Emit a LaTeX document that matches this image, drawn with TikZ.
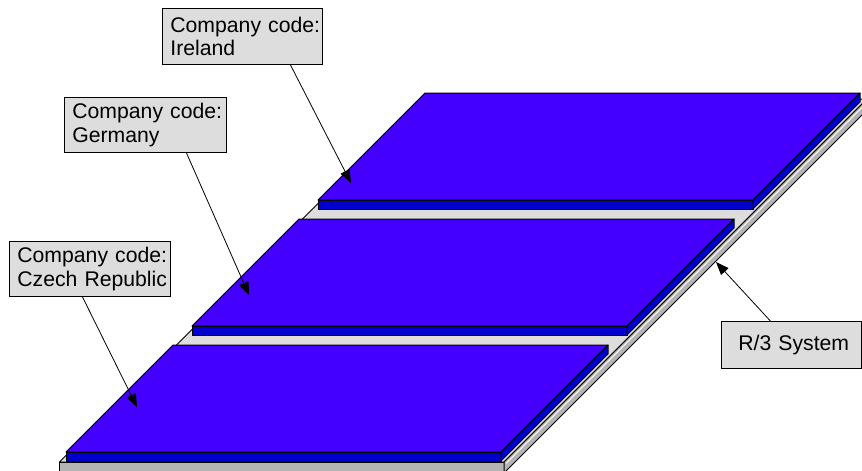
\documentclass[tikz,border=0pt]{standalone}
\usepackage{fontspec}
\setmainfont{Liberation Sans}
\usetikzlibrary{arrows.meta}
\definecolor{platetop}{RGB}{68,0,255}
\definecolor{plateside}{RGB}{0,0,204}
\definecolor{basetop}{RGB}{221,221,221}
\definecolor{baseside}{RGB}{180,180,180}
\definecolor{boxfill}{RGB}{221,221,221}
\newcommand\drawplate[2]{%
  \filldraw[edge, fill=platetop] (#1,#2) -- ({#1+435},#2) -- ({#1+542},{#2-107}) -- ({#1+107},{#2-107}) -- cycle;
  \filldraw[edge, fill=plateside] (#1,#2) -- ({#1+435},#2) -- ({#1+435},{#2+9}) -- (#1,{#2+9}) -- cycle;
  \filldraw[edge, fill=plateside] ({#1+435},#2) -- ({#1+542},{#2-107}) -- ({#1+542},{#2-98}) -- ({#1+435},{#2+9}) -- cycle;
}
\begin{document}
\begin{tikzpicture}[x=1pt,y=-1pt,
  edge/.style={draw=black, line width=1pt, line join=round},
  lbl/.style={draw=black, line width=0.8pt, fill=boxfill, anchor=north west, align=left,
    inner xsep=8pt, inner ysep=0pt, font=\fontsize{21.2}{23.5}\selectfont},
  pointer/.style={draw=black, line width=0.8pt, -{Triangle[length=13pt,width=10pt]}}]
\useasboundingbox (0,0) rectangle (862,471);
\begin{scope}
  \clip (0,0) rectangle (862,471);
  % base platform
  \filldraw[edge, fill=basetop] (59.5,462) -- (504,462) -- (867,99) -- (422.5,99) -- cycle;
  \filldraw[edge, fill=baseside] (59.5,462) -- (504,462) -- (504,473) -- (59.5,473) -- cycle;
  \filldraw[edge, fill=baseside] (504,462) -- (867,99) -- (867,110) -- (504,473) -- cycle;
  \draw[white, line width=0.8pt] (506,463.5) -- (868,101.5);
  % company code plates
  \drawplate{318}{200}
  \drawplate{192}{326}
  \drawplate{66}{452}
\end{scope}
% labels
\node[lbl, text width=144pt, minimum height=56pt] (ireland) at (162,8) {\mbox{Company code:}\\\mbox{Ireland}};
\node[lbl, text width=146pt, minimum height=55pt] (germany) at (64,97) {\mbox{Company code:}\\\mbox{Germany}};
\node[lbl, text width=145pt, minimum height=55pt] (czech) at (9,241) {\mbox{Company code:}\\\mbox{Czech Republic}};
\node[lbl, inner xsep=17pt, text width=106pt, minimum height=47pt] (rthree) at (721,321) {\mbox{R/3 System}};
% arrow tips
\coordinate (tipI) at (351,183);
\coordinate (tipG) at (249,295);
\coordinate (tipC) at (137,407);
\coordinate (tipR) at (716,262);
\draw[pointer] ([xshift=48pt]ireland.south) -- (tipI);
\draw[pointer] ([xshift=41pt]germany.south) -- (tipG);
\draw[pointer] ([xshift=-7.5pt]czech.south) -- (tipC);
\draw[pointer] ([xshift=-21pt]rthree.north) -- (tipR);
\end{tikzpicture}
\end{document}
